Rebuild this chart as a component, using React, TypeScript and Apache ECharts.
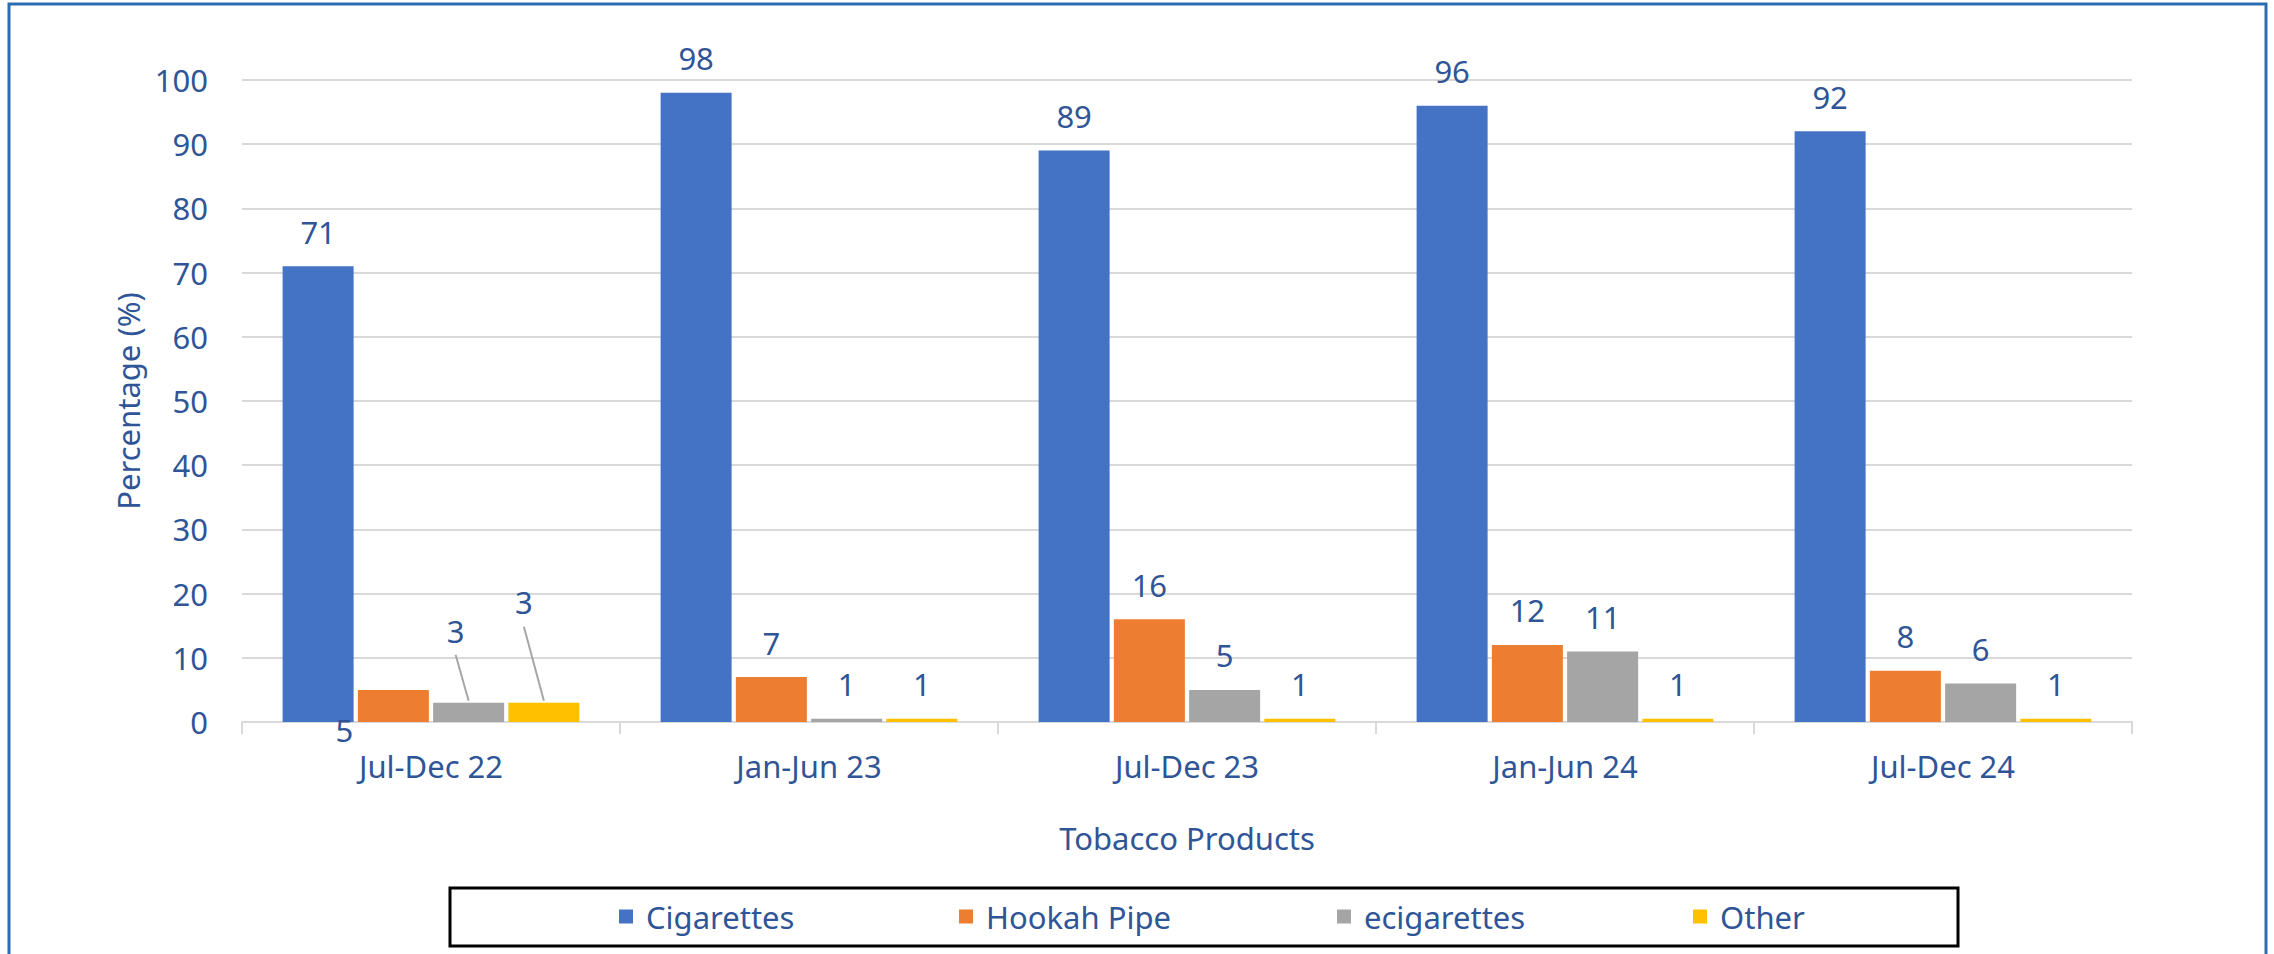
import React, { useEffect, useRef } from "react";
import * as echarts from "echarts";

const categories = ["Jul-Dec 22", "Jan-Jun 23", "Jul-Dec 23", "Jan-Jun 24", "Jul-Dec 24"];
const seriesNames = ["Cigarettes", "Hookah Pipe", "ecigarettes", "Other"];
const cigarettes = [71, 98, 89, 96, 92];
const hookahPipe = [5, 7, 16, 12, 8];
const ecigarettes = [3, 0.5, 5, 11, 6];
const other = [3, 0.5, 0.5, 0.5, 0.5];
const yTicks = { min: 0, max: 100, interval: 10 };

const colors = ["#4472C4", "#ED7D31", "#A5A5A5", "#FFC000"];
const textColor = "#2F5597";
const FONT = "'Noto Sans', sans-serif";
const FS = 31;

export default function App() {
  const ref = useRef<HTMLDivElement>(null);
  useEffect(() => {
    document.body.style.margin = "0";
    if (!ref.current) return;
    const chart = echarts.init(ref.current, null, { renderer: "svg" });
    const values = [cigarettes, hookahPipe, ecigarettes, other];
    // label relocations for the first category (as in the source chart)
    const moves: Record<number, { dx: number; dy: number; lineDy?: number }> = {
      1: { dx: -49, dy: 75 },
      2: { dx: -13, dy: -37, lineDy: -48 },
      3: { dx: -20, dy: -66, lineDy: -76 },
    };
    const series = values.map((vals, si) => ({
      name: seriesNames[si],
      type: "bar",
      barWidth: 71,
      barGap: "6%",
      itemStyle: { color: colors[si] },
      label: {
        show: true,
        position: "top",
        distance: 19,
        color: textColor,
        fontFamily: FONT,
        fontSize: FS,
        formatter: (p: any) => String(Math.round(p.value)),
      },
      labelLayout: (p: any) => {
        const m = moves[si];
        if (m && p.dataIndex === 0) return { dx: m.dx, dy: m.dy };
        return {};
      },
      data: vals,
    }));

    const legendX = [619, 959, 1337, 1693];
    const legends = seriesNames.map((n, i) => ({
      data: [n],
      left: legendX[i],
      top: 901,
      padding: 0,
      itemWidth: 14,
      itemHeight: 14,
      icon: "rect",
      textStyle: { color: textColor, fontFamily: FONT, fontSize: FS, padding: [0, 0, 0, 8] },
    }));

    const frames: any[] = [
      {
        type: "rect",
        shape: { x: 9, y: 4, width: 2257, height: 1000 },
        style: { fill: "none", stroke: "#2E6CB0", lineWidth: 3 },
        silent: true,
      },
      {
        type: "rect",
        shape: { x: 450, y: 888, width: 1508, height: 58 },
        style: { fill: "none", stroke: "#000000", lineWidth: 3 },
        silent: true,
      },
    ];

    chart.setOption({
      animation: false,
      backgroundColor: "#ffffff",
      textStyle: { fontFamily: FONT },
      grid: { left: 242, right: 142, top: 80, bottom: 232, containLabel: false },
      legend: legends,
      graphic: frames,
      xAxis: {
        type: "category",
        data: categories,
        name: "Tobacco Products",
        nameLocation: "middle",
        nameGap: 100,
        nameTextStyle: { color: textColor, fontFamily: FONT, fontSize: FS },
        axisLine: { show: true, lineStyle: { color: "#D9D9D9", width: 2 } },
        axisTick: { show: true, length: 12, lineStyle: { color: "#D9D9D9", width: 2 } },
        axisLabel: { color: textColor, fontFamily: FONT, fontSize: FS, margin: 28 },
      },
      yAxis: {
        type: "value",
        min: yTicks.min,
        max: yTicks.max,
        interval: yTicks.interval,
        name: "Percentage (%)",
        nameLocation: "middle",
        nameGap: 95,
        nameTextStyle: { color: textColor, fontFamily: FONT, fontSize: FS },
        axisLine: { show: false },
        axisTick: { show: false },
        axisLabel: { color: textColor, fontFamily: FONT, fontSize: FS, margin: 34 },
        splitLine: { show: true, lineStyle: { color: "#D9D9D9", width: 2 } },
      },
      series,
    });

    // leader lines from moved labels to their bars, using the bars' computed layout
    try {
      const model = (chart as any).getModel();
      const leaders: any[] = [];
      Object.keys(moves).forEach((k) => {
        const si = Number(k);
        const m = moves[si];
        if (m.lineDy === undefined) return;
        const layout = model.getSeriesByIndex(si).getData().getItemLayout(0);
        if (!layout) return;
        const cx = layout.x + layout.width / 2;
        const top = Math.min(layout.y, layout.y + layout.height);
        leaders.push({
          type: "line",
          silent: true,
          z: 10,
          shape: { x1: cx + m.dx, y1: top + m.lineDy, x2: cx, y2: top - 2 },
          style: { stroke: "#A6A6A6", lineWidth: 2 },
        });
      });
      chart.setOption({ graphic: [...frames, ...leaders] });
    } catch (e) {
      // ignore
    }
    return () => chart.dispose();
  }, []);
  return <div ref={ref} style={{ width: 2274, height: 954 }} />;
}
